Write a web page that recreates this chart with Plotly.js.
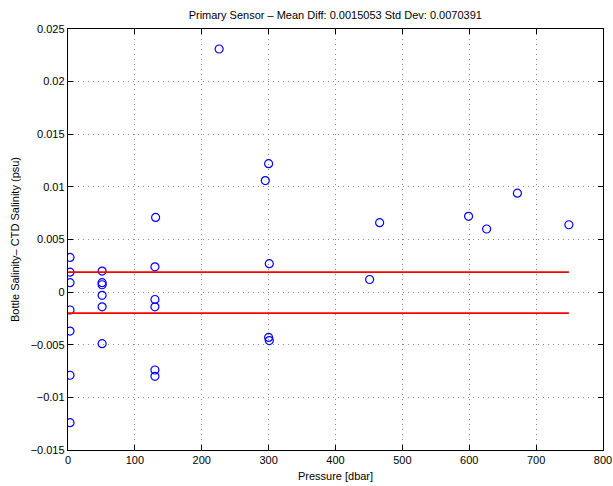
<!DOCTYPE html>
<html>
<head>
<meta charset="utf-8">
<script src="https://cdn.plot.ly/plotly-3.0.1.min.js"></script>
<style>html,body{margin:0;padding:0;background:#fff;}#chart{width:613px;height:486px;}</style>
</head>
<body>
<div id="chart"></div>
<script>
var pressure = [3, 3, 3, 3, 3, 3, 3,
                51, 51, 51, 51, 51, 51,
                130, 130, 130, 130, 130, 131,
                226,
                295, 300, 301, 300, 301,
                451, 466,
                599, 626, 672, 749];
var salDiff = [0.0033, 0.0019, 0.0009, -0.0017, -0.0037, -0.0079, -0.0124,
               0.0020, 0.0009, 0.0007, -0.0003, -0.0014, -0.0049,
               0.0024, -0.0007, -0.0014, -0.0074, -0.0080, 0.0071,
               0.0231,
               0.0106, 0.0122, 0.0027, -0.0043, -0.0046,
               0.0012, 0.0066,
               0.0072, 0.0060, 0.0094, 0.0064];
var limitX = [0, 749];
var upperLimit = [0.0019, 0.0019];
var lowerLimit = [-0.0020, -0.0020];
var xTicks = [0, 100, 200, 300, 400, 500, 600, 700, 800];
var yTicks = [-0.015, -0.01, -0.005, 0, 0.005, 0.01, 0.015, 0.02, 0.025];
var yTickText = ['\u22120.015', '\u22120.01', '\u22120.005', '0', '0.005', '0.01', '0.015', '0.02', '0.025'];

var font = {family: 'Liberation Sans, Arial, sans-serif', size: 11, color: '#000'};

var traces = [
  {x: pressure, y: salDiff, type: 'scatter', mode: 'markers',
   marker: {symbol: 'circle-open', size: 8, color: '#0000ff', line: {width: 1.2, color: '#0000ff'}},
   showlegend: false, hoverinfo: 'x+y'},
  {x: limitX, y: upperLimit, type: 'scatter', mode: 'lines',
   line: {color: '#ff0000', width: 1.7}, showlegend: false},
  {x: limitX, y: lowerLimit, type: 'scatter', mode: 'lines',
   line: {color: '#ff0000', width: 1.7}, showlegend: false}
];

var layout = {
  width: 613, height: 486,
  margin: {l: 68, r: 10, t: 29, b: 36, pad: 0},
  paper_bgcolor: '#fff', plot_bgcolor: '#fff',
  font: font,
  title: {text: 'Primary Sensor \u2013 Mean Diff: 0.0015053 Std Dev: 0.0070391',
          font: {family: font.family, size: 11, color: '#000'},
          x: 0.547, xanchor: 'center', y: 0.968, yanchor: 'middle'},
  xaxis: {range: [0, 800], tickvals: xTicks, ticktext: xTicks.map(String),
          ticks: 'inside', ticklen: 5, tickcolor: '#000', tickwidth: 1,
          showline: true, linecolor: '#000', linewidth: 1.2, mirror: 'allticks',
          showgrid: true, gridcolor: '#8a8a8a', griddash: '1px,4px', gridwidth: 1,
          zeroline: false, tickfont: font,
          title: {text: 'Pressure [dbar]', font: font, standoff: 6}},
  yaxis: {range: [-0.015, 0.025], tickvals: yTicks, ticktext: yTickText,
          ticks: 'inside', ticklen: 5, tickcolor: '#000', tickwidth: 1,
          showline: true, linecolor: '#000', linewidth: 1.2, mirror: 'allticks',
          showgrid: true, gridcolor: '#8a8a8a', griddash: '1px,4px', gridwidth: 1,
          zeroline: false, tickfont: font,
          title: {text: 'Bottle Salinity\u2013 CTD Salinity (psu)', font: font, standoff: 8}}
};

Plotly.newPlot('chart', traces, layout, {displayModeBar: false, staticPlot: true});
</script>
</body>
</html>
